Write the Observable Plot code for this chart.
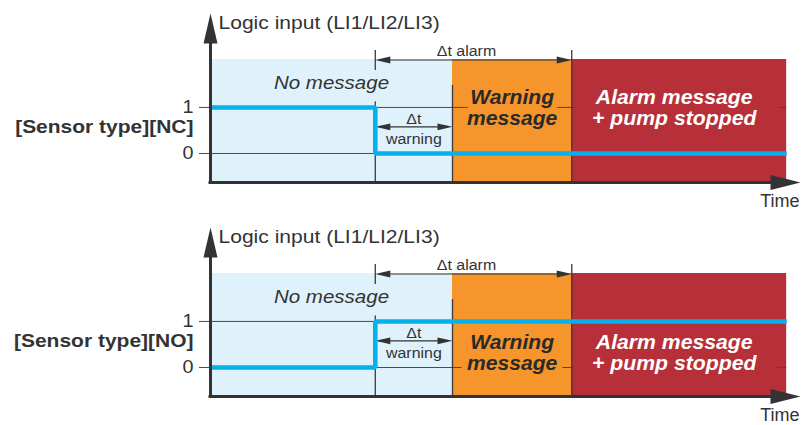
<!DOCTYPE html>
<html>
<head>
<meta charset="utf-8">
<script src="https://cdn.jsdelivr.net/npm/d3@7"></script>
<script src="https://cdn.jsdelivr.net/npm/@observablehq/plot@0.6"></script>
<style>
  html, body { margin: 0; padding: 0; background: #fff; overflow: hidden; }
  #chart svg { display: block; }
</style>
</head>
<body>
<div id="chart"></div>
<script>
// ---- data ----
const phaseNames = ["No message", "Warning\nmessage", "Alarm message\n+ pump stopped"];
const phaseStart = [0, 4.2, 6.27];
const phaseEnd = [4.2, 6.27, 10];
const faultTime = 2.86;
const levels = [0, 1];
const levelLabels = ["0", "1"];
const sensorLabels = ["[Sensor type][NC]", "[Sensor type][NO]"];
const signalTimes = [0, 2.86, 10];
const signalNC = [1, 0, 0];
const signalNO = [0, 1, 1];
const messageLevelsNC = [1.52, 1.0, 1.0];
const messageLevelsNO = [1.52, 0.32, 0.32];
const xDomain = [0, 10.24];
const yDomain = [-0.63, 3.04];
const dtAlarmLevel = 2.03;
const dtWarningLevel = 0.58;
const yAxisTitle = "Logic input (LI1/LI2/LI3)";
const xAxisTitle = "Time";
const dtAlarmLabel = "\u0394t alarm";
const dtWarningLabel = "\u0394t\nwarning";

// ---- styles ----
const phaseColors = ["#dff1fb", "#f5952b", "#b72f38"];
const ink = "#333";
const FONT = "'Liberation Sans', Arial, Helvetica, sans-serif";

const tri = (hw) => ({
  draw(ctx, l) { ctx.moveTo(0, -l); ctx.lineTo(hw, 0); ctx.lineTo(-hw, 0); ctx.closePath(); }
});

function panel(values, sensorLabel, msgLevels, height, marginBottom) {
  const signal = signalTimes.map((t, i) => ({t, v: values[i]}));
  const phases = phaseNames.map((name, i) => ({
    name, x1: phaseStart[i], x2: phaseEnd[i], mid: (phaseStart[i] + phaseEnd[i]) / 2,
    level: msgLevels[i], color: phaseColors[i]
  }));
  const ticks = levels.map((v, i) => ({v, label: levelLabels[i]}));
  const alarmHeads = [{x: faultTime, r: -90}, {x: phaseStart[2], r: 90}];
  const warnHeads = [{x: faultTime, r: -90}, {x: phaseStart[1], r: 90}];
  const boldMsg = {x: "mid", y: "level", text: "name", fontSize: 20.3, fontWeight: "bold", fontStyle: "italic", lineHeight: 1.04};
  return Plot.plot({
    width: 802,
    height,
    marginLeft: 210,
    marginRight: 2,
    marginTop: 13,
    marginBottom,
    x: {domain: xDomain, axis: null},
    y: {domain: yDomain, axis: null},
    color: {type: "identity"},
    style: {fontFamily: FONT, background: "transparent", overflow: "visible"},
    marks: [
      // phase bands
      Plot.rect(phases, {x1: "x1", x2: "x2", fill: "color", insetTop: 46}),
      // grid lines + tick marks
      Plot.ruleY(levels, {x1: phaseStart[0], x2: phaseEnd[2], stroke: "#4a4a4a", strokeWidth: 1, insetLeft: -11}),
      // fault instant
      Plot.ruleX([faultTime], {insetTop: 37, stroke: "#3a3a3a", strokeWidth: 1.3}),
      // phase labels
      Plot.text([phases[0]], {x: "mid", y: "level", text: "name", fill: ink, fontSize: 18, fontStyle: "italic",
        stroke: phaseColors[0], strokeWidth: 18, strokeLinejoin: "round", ariaDescription: "stretch 1.14"}),
      // halos (background-coloured) then text for the bold messages
      Plot.text([phases[1]], {...boldMsg, fill: phaseColors[1], stroke: phaseColors[1], strokeWidth: 12,
        strokeLinejoin: "round", ariaDescription: "stretch 1.04"}),
      Plot.text([phases[2]], {...boldMsg, dx: -5, fill: phaseColors[2], stroke: phaseColors[2], strokeWidth: 40,
        strokeLinejoin: "round", ariaDescription: "stretch 1.045"}),
      Plot.text([phases[1]], {...boldMsg, fill: "#2a2a2a", ariaDescription: "stretch 1.04"}),
      Plot.text([phases[2]], {...boldMsg, dx: -5, fill: "white", ariaDescription: "stretch 1.045"}),
      // phase boundaries
      Plot.ruleX([phaseStart[1]], {insetTop: 72, stroke: "#3a3a3a", strokeWidth: 1.3}),
      Plot.ruleX([phaseStart[2]], {insetTop: 37, stroke: "#3a3a3a", strokeWidth: 1.3}),
      // delta t alarm
      Plot.ruleY([dtAlarmLevel], {x1: faultTime, x2: phaseStart[2], stroke: ink, strokeWidth: 1.2, insetLeft: 4, insetRight: 4}),
      Plot.vector(alarmHeads, {x: "x", y: () => dtAlarmLevel, rotate: "r", anchor: "end", length: 15,
        shape: tri(3.4), fill: ink, stroke: "none"}),
      Plot.text([dtAlarmLabel], {x: () => (faultTime + phaseStart[2]) / 2, y: () => dtAlarmLevel, text: (d) => d,
        dx: -7, dy: -9, fontSize: 14.5, fill: ink, ariaDescription: "stretch 1.1"}),
      // delta t warning
      Plot.ruleY([dtWarningLevel], {x1: faultTime, x2: phaseStart[1], stroke: ink, strokeWidth: 1.2, insetLeft: 4, insetRight: 4}),
      Plot.vector(warnHeads, {x: "x", y: () => dtWarningLevel, rotate: "r", anchor: "end", length: 15,
        shape: tri(3.4), fill: ink, stroke: "none"}),
      Plot.text([dtWarningLabel], {x: () => (faultTime + phaseStart[1]) / 2, y: () => dtWarningLevel, text: (d) => d,
        dy: 1, lineHeight: 1.38, fontSize: 14.5, fill: ink, ariaDescription: "stretch 1.1"}),
      // signal
      Plot.line(signal, {x: "t", y: "v", curve: "step-after", stroke: "#06b1ec", strokeWidth: 4.6,
        strokeLinecap: "butt", strokeLinejoin: "miter"}),
      // axes
      Plot.ruleX([xDomain[0]], {stroke: ink, strokeWidth: 3, insetTop: 20}),
      Plot.ruleY([yDomain[0]], {stroke: ink, strokeWidth: 3, insetRight: 20, insetLeft: -1.5}),
      Plot.vector([0], {frameAnchor: "top-left", rotate: 0, anchor: "end", length: 30, shape: tri(7), fill: ink, stroke: "none"}),
      Plot.vector([0], {frameAnchor: "bottom-right", rotate: 90, anchor: "end", length: 30, shape: tri(7.5), fill: ink, stroke: "none"}),
      // tick labels
      Plot.text(ticks, {x: () => xDomain[0], y: "v", text: "label", textAnchor: "end", dx: -17, fontSize: 18, fill: ink,
        ariaDescription: "stretch 1.1"}),
      // titles
      Plot.text([sensorLabel], {x: () => xDomain[0], y: () => 0.5, text: (d) => d, textAnchor: "end", dx: -17, dy: -3,
        fontSize: 17.5, fontWeight: "bold", fill: ink, ariaDescription: "stretch 1.2"}),
      Plot.text([yAxisTitle], {frameAnchor: "top-left", lineAnchor: "middle", text: (d) => d, textAnchor: "start", dx: 8, dy: 10,
        fontSize: 18, fill: ink, ariaDescription: "stretch 1.17"}),
      Plot.text([xAxisTitle], {frameAnchor: "bottom-right", lineAnchor: "middle", text: (d) => d, textAnchor: "end", dx: -1, dy: 19,
        fontSize: 18, fill: ink})
    ]
  });
}

function stretch(svg) {
  svg.querySelectorAll("g[aria-description]").forEach((g) => {
    const m = /stretch ([\d.]+)/.exec(g.getAttribute("aria-description") || "");
    if (!m) return;
    g.querySelectorAll("text").forEach((t) => {
      t.setAttribute("transform", (t.getAttribute("transform") || "") + ` scale(${m[1]},1)`);
    });
  });
  return svg;
}

const chart = document.getElementById("chart");
chart.append(stretch(panel(signalNC, sensorLabels[0], messageLevelsNC, 214, 32)));
chart.append(stretch(panel(signalNO, sensorLabels[1], messageLevelsNO, 211, 29)));
</script>
</body>
</html>
